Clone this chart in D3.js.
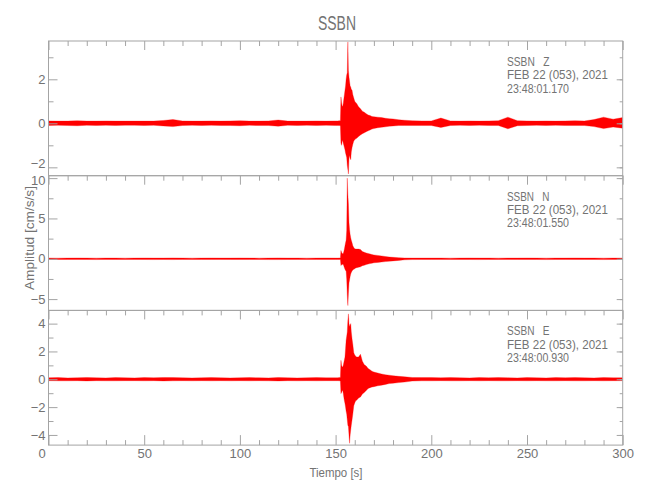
<!DOCTYPE html>
<html><head><meta charset="utf-8">
<script src="https://cdn.jsdelivr.net/npm/d3@7"></script>
<style>
body{margin:0;background:#fff}
text{font-family:"Liberation Sans Narrow","Liberation Sans",sans-serif;fill:#737373}
</style>
</head><body><svg id="c" width="650" height="500"></svg>
<script>
// ---------- data ----------
const title = "SSBN";
const station = "SSBN";
const components = ["Z", "N", "E"];
const dateLabel = "FEB 22 (053), 2021";
const startTimes = ["23:48:01.170", "23:48:01.550", "23:48:00.930"];
const xLabel = "Tiempo [s]";
const yLabel = "Amplitud [cm/s/s]";
const xTickLabels = [0, 50, 100, 150, 200, 250, 300];
const yDomains = [[-2.38, 3.74], [-6.4, 10.3], [-4.73, 4.95]];
const yTicksZ = [-2, 0, 2];
const yTicksN = [-5, 0, 5, 10];
const yTicksE = [-4, -2, 0, 2, 4];
const yMinorZ = [-2, -1, 0, 1, 2, 3];
const yMinorN = [-5, -2.5, 0, 2.5, 5, 7.5, 10];
const yMinorE = [-4, -3, -2, -1, 0, 1, 2, 3, 4];

// sample times (s)
const timesPre = [0,5,10,15,20,25,30,35,40,45,50,55,60,65,70,75,80,85,90,95,100,105,110,115,120,125,130,135,140,145,150];
const timesEvent = [151,152,152.5,152.8,153.1,153.4,153.7,154.0,154.3,154.6,154.9,155.2,155.5,155.8,156.1,156.4,156.7,157.0,157.3,157.6,157.9,158.2,158.6,159.0,159.5,160.0,160.5,161.0,162,163,164,165,166,167,168,169,170,172,174,176,178,180,183,186,190,195];
const timesPost = [200,205,210,215,220,225,230,235,240,245,250,255,260,265,270,275,280,285,290,295,300];

// Z component: upper / lower envelope (cm/s/s)
const zUpPre = [0.11,0.10,0.10,0.12,0.10,0.10,0.11,0.10,0.10,0.10,0.10,0.10,0.13,0.17,0.11,0.10,0.10,0.11,0.10,0.11,0.12,0.10,0.10,0.11,0.15,0.10,0.10,0.10,0.11,0.10,0.11];
const zLoPre = [-0.10,-0.09,-0.10,-0.11,-0.09,-0.10,-0.09,-0.10,-0.09,-0.09,-0.10,-0.09,-0.12,-0.15,-0.10,-0.09,-0.10,-0.09,-0.10,-0.10,-0.11,-0.09,-0.10,-0.10,-0.13,-0.09,-0.10,-0.09,-0.10,-0.09,-0.10];
const zUpEvent = [0.11,0.12,0.12,1.2,0.95,0.8,0.76,0.9,1.1,1.3,1.5,1.7,2.0,2.2,2.3,3.7,2.4,2.1,1.9,1.7,1.65,1.55,1.5,1.3,1.15,1.0,0.95,0.9,0.75,0.66,0.55,0.5,0.44,0.38,0.35,0.31,0.3,0.28,0.26,0.23,0.21,0.2,0.16,0.14,0.12,0.11];
const zLoEvent = [-0.10,-0.10,-0.11,-0.9,-1.0,-0.85,-0.76,-0.9,-1.0,-1.1,-1.2,-1.35,-1.45,-1.55,-1.9,-2.1,-2.3,-1.6,-1.45,-1.6,-1.65,-1.3,-1.1,-0.95,-0.8,-0.75,-0.7,-0.68,-0.6,-0.53,-0.47,-0.43,-0.38,-0.34,-0.3,-0.26,-0.24,-0.2,-0.18,-0.16,-0.13,-0.12,-0.10,-0.10,-0.10,-0.10];
const zUpPost = [0.11,0.24,0.11,0.10,0.11,0.10,0.11,0.12,0.28,0.12,0.11,0.10,0.11,0.10,0.11,0.12,0.11,0.17,0.28,0.19,0.26];
const zLoPost = [-0.10,-0.19,-0.10,-0.09,-0.10,-0.09,-0.10,-0.10,-0.25,-0.11,-0.10,-0.09,-0.10,-0.09,-0.10,-0.10,-0.10,-0.15,-0.24,-0.17,-0.22];

// N component
const nUpPre = [0.09,0.08,0.09,0.10,0.09,0.08,0.09,0.09,0.08,0.09,0.10,0.09,0.09,0.11,0.09,0.08,0.09,0.10,0.09,0.09,0.10,0.09,0.08,0.09,0.11,0.09,0.09,0.08,0.09,0.10,0.09];
const nLoPre = [-0.08,-0.09,-0.09,-0.08,-0.09,-0.10,-0.08,-0.09,-0.09,-0.08,-0.09,-0.10,-0.09,-0.10,-0.08,-0.09,-0.09,-0.09,-0.08,-0.09,-0.09,-0.08,-0.09,-0.10,-0.10,-0.09,-0.08,-0.09,-0.09,-0.09,-0.09];
const nUpEvent = [0.09,0.10,0.11,1.03,0.8,0.7,0.62,0.65,0.9,1.2,1.6,2.0,2.3,3.5,10.0,8.0,6.8,4.5,3.6,3.0,2.6,2.3,2.0,1.6,1.4,1.25,1.2,1.2,1.2,1.15,0.9,0.8,0.72,0.66,0.6,0.52,0.48,0.42,0.36,0.28,0.22,0.18,0.14,0.10,0.09,0.09];
const nLoEvent = [-0.09,-0.09,-0.10,-0.83,-0.75,-0.7,-0.68,-0.7,-0.9,-1.1,-1.3,-1.45,-1.5,-2.5,-4.5,-5.8,-4.3,-3.0,-2.6,-2.2,-1.9,-1.7,-1.5,-1.4,-1.3,-1.24,-1.15,-1.1,-1.05,-1.0,-0.85,-0.8,-0.72,-0.66,-0.6,-0.55,-0.5,-0.45,-0.4,-0.35,-0.3,-0.26,-0.2,-0.13,-0.10,-0.09];
const nUpPost = [0.09,0.09,0.08,0.09,0.10,0.09,0.09,0.08,0.09,0.09,0.10,0.09,0.08,0.09,0.09,0.10,0.09,0.09,0.08,0.09,0.09];
const nLoPost = [-0.09,-0.08,-0.09,-0.09,-0.09,-0.10,-0.09,-0.09,-0.08,-0.09,-0.09,-0.09,-0.10,-0.09,-0.08,-0.09,-0.09,-0.09,-0.10,-0.09,-0.09];

// E component
const eUpPre = [0.11,0.12,0.10,0.11,0.13,0.11,0.10,0.12,0.11,0.10,0.12,0.11,0.13,0.12,0.11,0.10,0.11,0.12,0.11,0.10,0.11,0.12,0.11,0.10,0.13,0.11,0.10,0.11,0.12,0.11,0.11];
const eLoPre = [-0.10,-0.11,-0.11,-0.10,-0.12,-0.10,-0.11,-0.11,-0.10,-0.10,-0.11,-0.10,-0.12,-0.11,-0.10,-0.11,-0.10,-0.11,-0.10,-0.11,-0.10,-0.11,-0.10,-0.11,-0.12,-0.10,-0.11,-0.10,-0.11,-0.10,-0.10];
const eUpEvent = [0.11,0.12,0.13,1.36,1.0,0.9,0.88,1.0,1.2,1.4,1.6,2.2,2.8,3.1,3.4,4.2,4.7,4.0,3.8,3.9,4.0,3.4,2.9,2.5,1.9,1.75,1.65,1.6,1.6,1.8,1.3,1.05,0.95,0.78,0.68,0.58,0.52,0.45,0.38,0.33,0.29,0.26,0.21,0.18,0.13,0.12];
const eLoEvent = [-0.10,-0.11,-0.12,-1.03,-0.95,-0.85,-0.79,-1.0,-1.3,-1.55,-1.74,-2.0,-2.3,-2.5,-2.9,-3.3,-3.4,-4.0,-4.6,-4.0,-3.65,-3.3,-2.9,-2.5,-1.9,-1.7,-1.55,-1.5,-1.35,-1.27,-1.05,-0.95,-0.8,-0.67,-0.6,-0.56,-0.53,-0.47,-0.42,-0.37,-0.31,-0.28,-0.24,-0.2,-0.13,-0.11];
const eUpPost = [0.12,0.11,0.12,0.11,0.10,0.12,0.11,0.12,0.11,0.10,0.12,0.11,0.10,0.12,0.11,0.12,0.11,0.10,0.12,0.11,0.11];
const eLoPost = [-0.11,-0.10,-0.11,-0.11,-0.10,-0.11,-0.10,-0.11,-0.11,-0.10,-0.11,-0.10,-0.11,-0.11,-0.10,-0.11,-0.11,-0.10,-0.11,-0.10,-0.10];

// ---------- build ----------
const times = timesPre.concat(timesEvent, timesPost);
const series = [
  { up: zUpPre.concat(zUpEvent, zUpPost), lo: zLoPre.concat(zLoEvent, zLoPost), ticks: yTicksZ, minor: yMinorZ },
  { up: nUpPre.concat(nUpEvent, nUpPost), lo: nLoPre.concat(nLoEvent, nLoPost), ticks: yTicksN, minor: yMinorN },
  { up: eUpPre.concat(eUpEvent, eUpPost), lo: eLoPre.concat(eLoEvent, eLoPost), ticks: yTicksE, minor: yMinorE }
];

const left = 48.5, right = 622.7, top0 = 41, panelH = 134.7;
const frameCol = "#a4a4a4", red = "#ff0000", textCol = "#737373";
const fontFam = '"Liberation Sans Narrow","Liberation Sans",sans-serif';
const svg = d3.select("#c");
const x = d3.scaleLinear().domain([0, 300]).range([left, right]);
const xMinor = d3.range(0, 301, 10);
const fmt = d3.format("d");

svg.append("text").attr("x", 337).attr("y", 30).attr("text-anchor", "middle")
  .attr("font-size", 20).attr("textLength", 38).attr("lengthAdjust", "spacingAndGlyphs").text(title);

series.forEach((s, i) => {
  const y0 = top0 + i * panelH, y1 = y0 + panelH;
  const y = d3.scaleLinear().domain(yDomains[i]).range([y1, y0]);
  const g = svg.append("g");
  const cid = "clip" + i;
  svg.append("clipPath").attr("id", cid).append("rect")
    .attr("x", left).attr("y", y0).attr("width", right - left).attr("height", panelH);

  const data = times.map((t, k) => ({ t, hi: s.up[k], lo: s.lo[k] }));
  const area = d3.area().x(d => x(d.t)).y0(d => y(d.lo)).y1(d => y(d.hi));
  g.append("path").datum(data).attr("clip-path", `url(#${cid})`)
    .attr("d", area).attr("fill", red).attr("stroke", red).attr("stroke-width", 0.3);

  // frame
  g.append("rect").attr("x", left).attr("y", y0).attr("width", right - left).attr("height", panelH)
    .attr("fill", "none").attr("stroke", frameCol).attr("stroke-width", 1);

  // left axis
  g.append("g").attr("transform", `translate(${left},0)`)
    .call(d3.axisLeft(y).tickValues(s.minor.filter(v => !s.ticks.includes(v))).tickSizeInner(-5).tickSizeOuter(0).tickFormat(""));
  const axL = g.append("g").attr("transform", `translate(${left},0)`)
    .call(d3.axisLeft(y).tickValues(s.ticks).tickSizeInner(-9).tickSizeOuter(0).tickPadding(3).tickFormat(fmt));
  // nudge edge labels so neighbouring panels' labels do not collide
  axL.selectAll(".tick text").filter(d => d === s.ticks[0] && i === 0).attr("dy", "0.05em");
  axL.selectAll(".tick text").filter(d => d === s.ticks[s.ticks.length - 1] && i === 1).attr("dy", "0.5em");
  // right axis
  g.append("g").attr("transform", `translate(${right},0)`)
    .call(d3.axisRight(y).tickValues(s.minor).tickSizeInner(-3).tickSizeOuter(0).tickFormat(""));
  g.append("g").attr("transform", `translate(${right},0)`)
    .call(d3.axisRight(y).tickValues(s.ticks).tickSizeInner(-6).tickSizeOuter(0).tickFormat(""));
  // top axis
  g.append("g").attr("transform", `translate(0,${y0})`)
    .call(d3.axisTop(x).tickValues(xMinor.filter(v => !xTickLabels.includes(v))).tickSizeInner(-5).tickSizeOuter(0).tickFormat(""));
  g.append("g").attr("transform", `translate(0,${y0})`)
    .call(d3.axisTop(x).tickValues(xTickLabels).tickSizeInner(-9).tickSizeOuter(0).tickFormat(""));
  if (i === 2) {
    g.append("g").attr("transform", `translate(0,${y1})`)
      .call(d3.axisBottom(x).tickValues(xMinor.filter(v => !xTickLabels.includes(v))).tickSizeInner(-5).tickSizeOuter(0).tickFormat(""));
    const axB = g.append("g").attr("transform", `translate(0,${y1})`)
      .call(d3.axisBottom(x).tickValues(xTickLabels).tickSizeInner(-10).tickSizeOuter(0).tickPadding(4).tickFormat(fmt));
    axB.selectAll(".tick text").filter(d => d === 0).attr("dx", -7);
  }
  g.selectAll(".domain").remove();
  g.selectAll(".tick line").attr("stroke", frameCol);
  g.selectAll(".tick text").attr("fill", textCol).attr("font-size", 13).attr("font-family", fontFam);

  // annotation
  const tx = 507;
  const ann = [
    { s: station + "   " + components[i], w: 42.5 },
    { s: dateLabel, w: 101 },
    { s: startTimes[i], w: 62 }
  ];
  ann.forEach((a, k) => {
    g.append("text").attr("x", tx).attr("y", y0 + 25 + k * 13.3)
      .attr("font-size", 12.5).style("white-space", "pre")
      .attr("textLength", a.w).attr("lengthAdjust", "spacingAndGlyphs").text(a.s);
  });
});

svg.append("text").attr("x", 336).attr("y", 477).attr("text-anchor", "middle")
  .attr("font-size", 13).attr("textLength", 53).attr("lengthAdjust", "spacingAndGlyphs").text(xLabel);
svg.append("text").attr("transform", "translate(34,238) rotate(-90)").attr("text-anchor", "middle")
  .attr("font-size", 13).attr("textLength", 104).attr("lengthAdjust", "spacingAndGlyphs").text(yLabel);
</script>
</body></html>
